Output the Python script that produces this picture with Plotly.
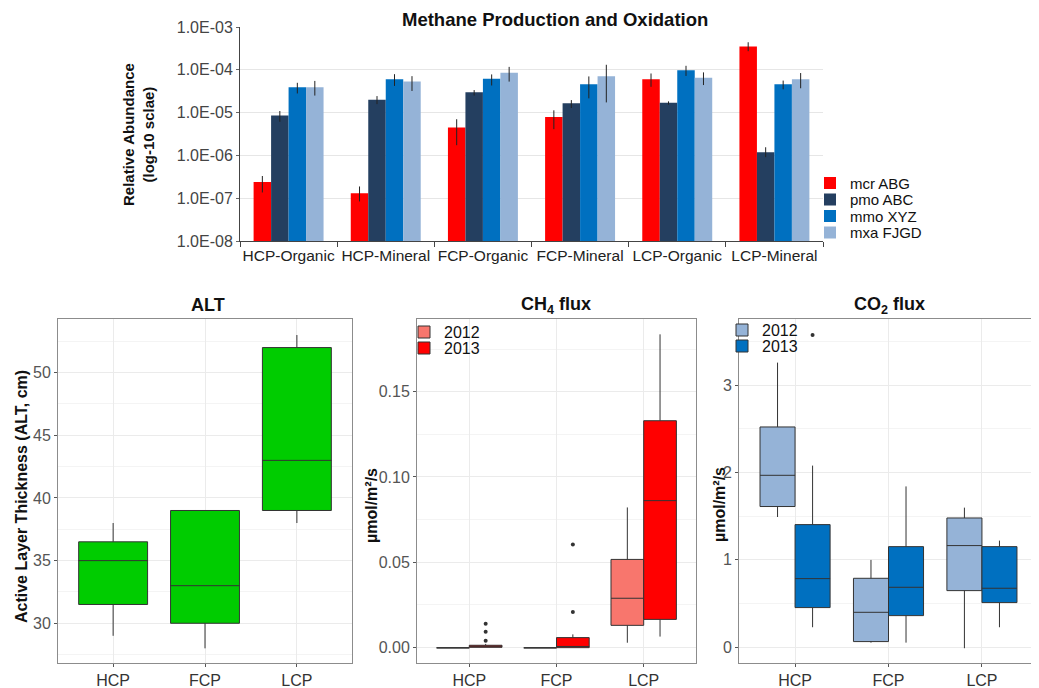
import numpy as np
import plotly.graph_objects as go

# ---------------- data ----------------
groups = ["HCP-Organic", "HCP-Mineral", "FCP-Organic", "FCP-Mineral", "LCP-Organic", "LCP-Mineral"]
series_names = ["mcr ABG", "pmo ABC", "mmo XYZ", "mxa FJGD"]
series_colors = ["#FF0000", "#243F60", "#0070C0", "#95B3D7"]

mcr = [2.4e-7, 1.3e-7, 4.5e-6, 7.9e-6, 6.0e-5, 3.5e-4]
mcr_hi = [3.3e-7, 1.88e-7, 7.0e-6, 1.13e-5, 8.2e-5, 4.4e-4]
mcr_lo = [1.36e-7, 8.4e-8, 1.73e-6, 4.1e-6, 4.0e-5, 2.72e-4]
pmo = [8.5e-6, 2.0e-5, 3.0e-5, 1.65e-5, 1.7e-5, 1.19e-6]
pmo_hi = [1.09e-5, 2.43e-5, 3.36e-5, 1.96e-5, 1.83e-5, 1.55e-6]
pmo_lo = [6.1e-6, 1.58e-5, 2.5e-5, 1.28e-5, 1.53e-5, 9.1e-7]
mmo = [3.9e-5, 6.0e-5, 6.2e-5, 4.6e-5, 9.8e-5, 4.6e-5]
mmo_hi = [4.97e-5, 7.9e-5, 7.8e-5, 7.0e-5, 1.24e-4, 5.6e-5]
mmo_lo = [2.8e-5, 4.2e-5, 4.3e-5, 2.15e-5, 7.2e-5, 3.5e-5]
mxa = [3.9e-5, 5.3e-5, 8.5e-5, 7.1e-5, 6.5e-5, 6.0e-5]
mxa_hi = [5.5e-5, 7.1e-5, 1.17e-4, 1.31e-4, 8.7e-5, 8.4e-5]
mxa_lo = [2.5e-5, 3.2e-5, 5.3e-5, 1.73e-5, 4.4e-5, 3.7e-5]

log_tickvals = [1e-8, 1e-7, 1e-6, 1e-5, 1e-4, 1e-3]
log_ticktext = ["1.0E-08", "1.0E-07", "1.0E-06", "1.0E-05", "1.0E-04", "1.0E-03"]

sites = ["HCP", "FCP", "LCP"]
years = ["2012", "2013"]

# ALT boxes
alt_q1 = [31.5, 30.0, 39.0]
alt_med = [35.0, 33.0, 43.0]
alt_q3 = [36.5, 39.0, 52.0]
alt_lo = [29.0, 28.0, 38.0]
alt_hi = [38.0, 39.0, 53.0]

# CH4 boxes [year][site]
ch4_q1 = [[-0.0003, -0.0003, 0.0129], [0.0, -0.0002, 0.0164]]
ch4_med = [[-0.0003, -0.0003, 0.0288], [0.0005, 0.0005, 0.0861]]
ch4_q3 = [[-0.0003, -0.0003, 0.0516], [0.0012, 0.0057, 0.133]]
ch4_lo = [[-0.0003, -0.0003, 0.0027], [0.0, -0.0002, 0.0063]]
ch4_hi = [[-0.0003, -0.0003, 0.0821], [0.0020, 0.0076, 0.1837]]
ch4_out_site = ["HCP", "HCP", "HCP", "FCP", "FCP"]
ch4_out_year = ["2013", "2013", "2013", "2013", "2013"]
ch4_out_val = [0.0039, 0.0092, 0.0139, 0.0207, 0.0604]

# CO2 boxes [year][site]
co2_q1 = [[1.61, 0.065, 0.648], [0.454, 0.362, 0.511]]
co2_med = [[1.967, 0.40, 1.163], [0.785, 0.686, 0.675]]
co2_q3 = [[2.52, 0.789, 1.479], [1.403, 1.151, 1.151]]
co2_lo = [[1.49, 0.053, -0.011], [0.229, 0.053, 0.229]]
co2_hi = [[3.256, 0.999, 1.597], [2.078, 1.84, 1.22]]
co2_out_site = ["HCP"]
co2_out_year = ["2013"]
co2_out_val = [3.572]

ch4_colors = ["#F8766D", "#FF0000"]
co2_colors = ["#95B3D7", "#0070C0"]
alt_color = "#00CC00"

# ---------------- figure ----------------
W, H = 1039, 688
OFF = 8  # page body margin of the html page
FONT = "Liberation Sans, Arial, sans-serif"
fig = go.Figure()

def fx(p):
    return (p - OFF) / W

def fy(p):
    return 1 - (p - OFF) / H

def px_x(a, b):
    return [fx(a), fx(b)]

def px_y(top, bottom):
    return [fy(bottom), fy(top)]

legend_layouts = {}
legend_ids = iter(["legend"] + [f"legend{i}" for i in range(2, 12)])

def make_legend(text_x, row_y, size):
    lid = next(legend_ids)
    first_center = 5 + (1.3 * size + 3) / 2 + 1
    legend_layouts[lid] = dict(
        x=fx(text_x - 42), y=fy(row_y - first_center), xanchor="left", yanchor="top",
        bgcolor="rgba(0,0,0,0)", font=dict(family=FONT, size=size, color="#111111"),
        itemwidth=30, tracegroupgap=0, itemclick=False, itemdoubleclick=False)
    return lid

vals = [mcr, pmo, mmo, mxa]
his = [mcr_hi, pmo_hi, mmo_hi, mxa_hi]
los = [mcr_lo, pmo_lo, mmo_lo, mxa_lo]
bar_rows = [184, 200.5, 217, 233.5]
for name, col, v, hi, lo, ry in zip(series_names, series_colors, vals, his, los, bar_rows):
    v = np.array(v); hi = np.array(hi); lo = np.array(lo)
    lid = make_legend(852, ry, 15)
    fig.add_trace(go.Bar(
        x=groups, y=v, name=name, marker=dict(color=col, line=dict(width=0)),
        error_y=dict(type="data", symmetric=False, array=hi - v, arrayminus=v - lo,
                     color="#222222", thickness=1, width=0),
        xaxis="x", yaxis="y", legend=lid))

box_w = 0.375
site_idx = {s: i for i, s in enumerate(sites)}
year_off = {"2012": -box_w / 2, "2013": box_w / 2}

# ALT
fig.add_trace(go.Box(
    x=list(range(len(sites))), q1=alt_q1, median=alt_med, q3=alt_q3,
    lowerfence=alt_lo, upperfence=alt_hi, width=0.75,
    fillcolor=alt_color, line=dict(color="#333333", width=1), boxpoints=False,
    showlegend=False, xaxis="x2", yaxis="y2", whiskerwidth=0))

def add_flux(q1, med, q3, lo, hi, colors, xa, ya, leg_x, leg_rows, out_site, out_year, out_val):
    for k, yr in enumerate(years):
        xs = np.arange(len(sites)) + year_off[yr]
        lid = make_legend(leg_x, leg_rows[k], 16)
        fig.add_trace(go.Box(
            x=xs, q1=q1[k], median=med[k], q3=q3[k], lowerfence=lo[k], upperfence=hi[k],
            width=box_w, fillcolor=colors[k], line=dict(color="#333333", width=1),
            boxpoints=False, name=yr, legend=lid, xaxis=xa, yaxis=ya, whiskerwidth=0))
    ox = [site_idx[s] + year_off[y] for s, y in zip(out_site, out_year)]
    fig.add_trace(go.Scatter(x=ox, y=out_val, mode="markers",
                             marker=dict(color="#333333", size=4), showlegend=False,
                             xaxis=xa, yaxis=ya, hoverinfo="y"))

add_flux(ch4_q1, ch4_med, ch4_q3, ch4_lo, ch4_hi, ch4_colors, "x3", "y3", 446, [333, 349],
         ch4_out_site, ch4_out_year, ch4_out_val)
add_flux(co2_q1, co2_med, co2_q3, co2_lo, co2_hi, co2_colors, "x4", "y4", 764, [331, 347],
         co2_out_site, co2_out_year, co2_out_val)

tick_font = dict(family=FONT, size=16, color="#555555")
xtick_font = dict(family=FONT, size=16, color="#333333")

def bottom_xaxis(dom, anchor):
    return dict(domain=dom, anchor=anchor, range=[-0.6, 2.6], tickvals=[0, 1, 2], ticktext=sites,
                showgrid=True, gridcolor="#EBEBEB", gridwidth=1, zeroline=False,
                showline=True, mirror=True, linecolor="#8C8C8C", linewidth=1, automargin=False,
                ticks="outside", ticklen=3, tickcolor="#555555", tickfont=xtick_font, tickangle=0)

def bottom_yaxis(dom, anchor, rng, dtick, tick0, minor0, fmt=None):
    d = dict(domain=dom, anchor=anchor, range=rng, dtick=dtick, tick0=tick0,
             showgrid=True, gridcolor="#EBEBEB", gridwidth=1, zeroline=False,
             showline=True, mirror=True, linecolor="#8C8C8C", linewidth=1, automargin=False,
             ticks="outside", ticklen=3, tickcolor="#555555", tickfont=tick_font,
             minor=dict(showgrid=True, gridcolor="#F4F4F4", dtick=dtick, tick0=minor0))
    if fmt:
        d["tickformat"] = fmt
    return d

bot_y = px_y(319, 663)

fig.update_layout(
    width=W, height=H, margin=dict(l=0, r=0, t=0, b=0, autoexpand=False),
    paper_bgcolor="white", plot_bgcolor="white",
    font=dict(family=FONT, color="#222222"),
    barmode="group", bargap=0.28, bargroupgap=0,
    xaxis=dict(domain=px_x(240, 823), anchor="y", type="category", tickson="boundaries",
               ticks="outside", ticklen=5, tickcolor="#444444", showline=True,
               linecolor="#444444", linewidth=1, showgrid=False, automargin=False, tickangle=0,
               tickfont=dict(family=FONT, size=15.5, color="#222222")),
    yaxis=dict(domain=px_y(27, 241), anchor="x", type="log", range=[-8, -3],
               tickvals=log_tickvals, ticktext=log_ticktext, showline=True,
               linecolor="#444444", linewidth=1, showgrid=True, gridcolor="#E6E6E6",
               ticks="outside", ticklen=3, tickcolor="#666666", zeroline=False, automargin=False,
               tickfont=dict(family=FONT, size=16, color="#444444")),
    xaxis2=bottom_xaxis(px_x(58, 352), "y2"),
    yaxis2=bottom_yaxis(bot_y, "x2", [26.83, 54.28], 5, 30, 27.5),
    xaxis3=bottom_xaxis(px_x(417, 696), "y3"),
    yaxis3=bottom_yaxis(bot_y, "x3", [-0.0092, 0.1927], 0.05, 0, 0.025, ".2f"),
    xaxis4=bottom_xaxis(px_x(739, 1038), "y4"),
    yaxis4=bottom_yaxis(bot_y, "x4", [-0.18, 3.755], 1, 0, 0.5),
    **legend_layouts,
)

def ann(text, x, y, size, angle=0, bold=True):
    fig.add_annotation(text=f"<b>{text}</b>" if bold else text, x=fx(x), y=fy(y),
                       xref="paper", yref="paper", showarrow=False, textangle=angle,
                       font=dict(family=FONT, size=size, color="#111111"),
                       xanchor="center", yanchor="middle")

ann("Methane Production and Oxidation", 555, 19, 18.5)
ann("Relative Abundance<br>(log-10 sclae)", 138, 135, 15, -90)
ann("ALT", 208, 305, 18)
ann("CH<sub>4</sub> flux", 556, 305, 18)
ann("CO<sub>2</sub> flux", 889, 305, 18)
ann("Active Layer Thickness (ALT, cm)", 21, 497, 16, -90)
ann("µmol/m²/s", 372, 506, 16, -90)
ann("µmol/m²/s", 720, 505, 16, -90)

fig.write_html("out.html")
